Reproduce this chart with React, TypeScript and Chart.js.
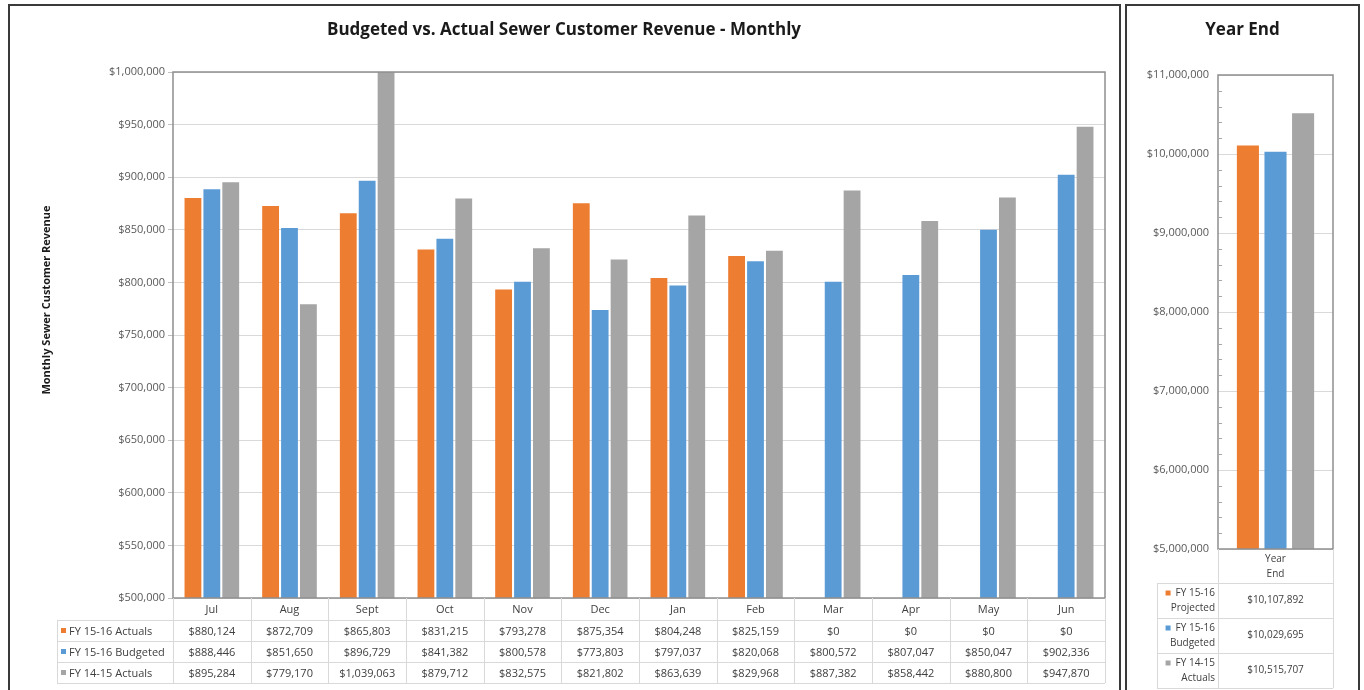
import React, { useEffect, useRef } from "react";
import { Chart, registerables } from "chart.js";

Chart.register(...registerables);

// ---------- data ----------
const months = ["Jul", "Aug", "Sept", "Oct", "Nov", "Dec", "Jan", "Feb", "Mar", "Apr", "May", "Jun"];
const monthlySeriesNames = ["FY 15-16 Actuals", "FY 15-16 Budgeted", "FY 14-15 Actuals"];
const fy1516Actuals = [880124, 872709, 865803, 831215, 793278, 875354, 804248, 825159, 0, 0, 0, 0];
const fy1516Budgeted = [888446, 851650, 896729, 841382, 800578, 773803, 797037, 820068, 800572, 807047, 850047, 902336];
const fy1415Actuals = [895284, 779170, 1039063, 879712, 832575, 821802, 863639, 829968, 887382, 858442, 880800, 947870];
const monthlyYMin = 500000;
const monthlyYMax = 1000000;
const monthlyYStep = 50000;

const yearEndCategory = ["Year End"];
const yearEndHeaderLines = ["Year", "End"];
const yearEndSeriesNames = [
  ["FY 15-16", "Projected"],
  ["FY 15-16", "Budgeted"],
  ["FY 14-15", "Actuals"],
];
const yearEndProjected = [10107892];
const yearEndBudgeted = [10029695];
const yearEndActuals = [10515707];
const yearEndYMin = 5000000;
const yearEndYMax = 11000000;
const yearEndYStep = 1000000;
const yearEndMinorStep = 200000;

const mainTitle = "Budgeted vs. Actual Sewer Customer Revenue - Monthly";
const mainYTitle = "Monthly Sewer Customer Revenue";
const yearEndTitle = "Year End";

// ---------- styles ----------
const ORANGE = "#ED7D31";
const BLUE = "#5B9BD5";
const GRAY = "#A5A5A5";
const SERIES_COLORS = [ORANGE, BLUE, GRAY];
const FONT = "'Open Sans', 'Noto Sans', sans-serif";
const TEXT = "#404040";
const GRID = "#d9d9d9";

const fmt = (v: number) => "$" + Math.round(v).toLocaleString("en-US");

const plotBorderPlugin = {
  id: "plotBorder",
  afterDraw(chart: any) {
    const { ctx, chartArea: ca } = chart;
    ctx.save();
    ctx.strokeStyle = "#8f8f8f";
    ctx.lineWidth = 1.5;
    ctx.strokeRect(ca.left, ca.top, ca.right - ca.left, ca.bottom - ca.top);
    ctx.restore();
  },
};

const monthlyExtrasPlugin = {
  id: "monthlyExtras",
  afterDraw(chart: any) {
    const { ctx, chartArea: ca, scales } = chart;
    const x = scales.x;
    const n = months.length;
    const bounds: number[] = [ca.left];
    for (let i = 1; i < n; i++) bounds.push((x.getPixelForValue(i - 1) + x.getPixelForValue(i)) / 2);
    bounds.push(ca.right);
    const rows = [fy1516Actuals, fy1516Budgeted, fy1415Actuals];
    const top = ca.bottom;
    const headerH = 22;
    const rowH = 21;
    const labelLeft = 47;
    const tableBottom = top + headerH + rowH * rows.length;

    ctx.save();
    ctx.strokeStyle = GRID;
    ctx.lineWidth = 1;
    ctx.beginPath();
    bounds.forEach((b) => {
      const bx = Math.round(b) + 0.5;
      ctx.moveTo(bx, top);
      ctx.lineTo(bx, tableBottom);
    });
    ctx.moveTo(labelLeft + 0.5, top + headerH);
    ctx.lineTo(labelLeft + 0.5, tableBottom);
    for (let r = 0; r <= rows.length; r++) {
      const y = Math.round(top + headerH + r * rowH) + 0.5;
      ctx.moveTo(labelLeft, y);
      ctx.lineTo(ca.right, y);
    }
    ctx.stroke();

    ctx.fillStyle = TEXT;
    ctx.font = `11px ${FONT}`;
    ctx.textAlign = "center";
    ctx.textBaseline = "middle";
    months.forEach((m, i) => ctx.fillText(m, x.getPixelForValue(i), top + headerH / 2 + 1));
    rows.forEach((vals, r) => {
      const cy = top + headerH + r * rowH + rowH / 2 + 1;
      vals.forEach((v, i) => ctx.fillText(fmt(v), x.getPixelForValue(i), cy));
    });
    ctx.textAlign = "left";
    rows.forEach((_, r) => {
      const cy = top + headerH + r * rowH + rowH / 2;
      ctx.fillStyle = SERIES_COLORS[r];
      ctx.fillRect(labelLeft + 4, cy - 2.5, 5, 5);
      ctx.fillStyle = TEXT;
      ctx.fillText(monthlySeriesNames[r], labelLeft + 12, cy + 1);
    });

    // y-axis title
    ctx.save();
    ctx.translate(37, 294);
    ctx.rotate(-Math.PI / 2);
    ctx.fillStyle = "#1a1a1a";
    ctx.font = `bold 11px ${FONT}`;
    ctx.textAlign = "center";
    ctx.textBaseline = "middle";
    ctx.fillText(mainYTitle, 0, 0);
    ctx.restore();

    ctx.restore();
  },
};

const yearEndExtrasPlugin = {
  id: "yearEndExtras",
  afterDraw(chart: any) {
    const { ctx, chartArea: ca, scales } = chart;
    const y = scales.y;
    const x = scales.x;
    ctx.save();
    // minor ticks inside the axis
    ctx.strokeStyle = "#a6a6a6";
    ctx.lineWidth = 1;
    ctx.beginPath();
    for (let v = yearEndYMin; v <= yearEndYMax; v += yearEndMinorStep) {
      if (v % yearEndYStep === 0) continue;
      const py = Math.round(y.getPixelForValue(v)) + 0.5;
      ctx.moveTo(ca.left, py);
      ctx.lineTo(ca.left + 4, py);
    }
    ctx.stroke();

    // table
    const top = ca.bottom;
    const headerH = 34;
    const rowH = 35;
    const labelLeft = 30;
    const rows = [yearEndProjected, yearEndBudgeted, yearEndActuals];
    const bottom = top + headerH + rowH * rows.length;
    ctx.strokeStyle = GRID;
    ctx.beginPath();
    [ca.left, ca.right].forEach((b) => {
      const bx = Math.round(b) + 0.5;
      ctx.moveTo(bx, top);
      ctx.lineTo(bx, bottom);
    });
    ctx.moveTo(labelLeft + 0.5, top + headerH);
    ctx.lineTo(labelLeft + 0.5, bottom);
    for (let r = 0; r <= rows.length; r++) {
      const py = Math.round(top + headerH + r * rowH) + 0.5;
      ctx.moveTo(labelLeft, py);
      ctx.lineTo(ca.right, py);
    }
    ctx.stroke();

    const cx = x.getPixelForValue(0);
    ctx.fillStyle = TEXT;
    ctx.font = `10px ${FONT}`;
    ctx.textAlign = "center";
    ctx.textBaseline = "middle";
    ctx.fillText(yearEndHeaderLines[0], cx, top + 10);
    ctx.fillText(yearEndHeaderLines[1], cx, top + 25);
    rows.forEach((vals, r) => {
      const rt = top + headerH + r * rowH;
      ctx.fillStyle = TEXT;
      ctx.textAlign = "center";
      ctx.fillText(fmt(vals[0]), cx, rt + rowH / 2);
      ctx.textAlign = "right";
      const rx = ca.left - 3;
      const [l1, l2] = yearEndSeriesNames[r];
      ctx.fillText(l1, rx, rt + 10);
      ctx.fillText(l2, rx, rt + 25);
      const w1 = ctx.measureText(l1).width;
      ctx.fillStyle = SERIES_COLORS[r];
      ctx.fillRect(rx - w1 - 10, rt + 7.5, 5, 5);
    });
    ctx.restore();
  },
};

// an empty right-hand spacer axis keeps the title centred on the whole panel
const spacerAxis = (w: number) => ({
  position: "right",
  display: true,
  grid: { display: false },
  border: { display: false },
  ticks: { display: false },
  afterFit: (s: any) => {
    s.width = w;
  },
});

export default function App() {
  const mainRef = useRef<HTMLCanvasElement>(null);
  const yeRef = useRef<HTMLCanvasElement>(null);

  useEffect(() => {
    Chart.defaults.font.family = FONT;
    const main = new Chart(mainRef.current as HTMLCanvasElement, {
      type: "bar",
      data: {
        labels: months,
        datasets: [
          { label: monthlySeriesNames[0], data: fy1516Actuals, backgroundColor: ORANGE },
          { label: monthlySeriesNames[1], data: fy1516Budgeted, backgroundColor: BLUE },
          { label: monthlySeriesNames[2], data: fy1415Actuals, backgroundColor: GRAY },
        ],
      },
      options: {
        responsive: false,
        animation: false,
        layout: { padding: 0 },
        datasets: { bar: { categoryPercentage: 0.73, barPercentage: 0.89 } },
        plugins: {
          legend: { display: false },
          tooltip: { enabled: false },
          title: {
            display: true,
            text: mainTitle,
            color: "#1a1a1a",
            font: { size: 17, weight: "bold", family: FONT },
            padding: { top: 14, bottom: 31.6 },
          },
        },
        scales: {
          x: {
            grid: { display: false },
            border: { display: false },
            ticks: { display: false },
            afterFit: (s: any) => {
              s.height = 92;
            },
          },
          y: {
            min: monthlyYMin,
            max: monthlyYMax,
            ticks: {
              stepSize: monthlyYStep,
              callback: (v: any) => fmt(Number(v)),
              color: "#595959",
              font: { size: 11, family: FONT },
              padding: 3,
            },
            grid: { color: GRID, tickColor: "#bfbfbf", tickLength: 5 },
            border: { display: false },
            afterFit: (s: any) => {
              s.width = 163;
            },
          },
          spacer: spacerAxis(13),
        },
      } as any,
      plugins: [plotBorderPlugin, monthlyExtrasPlugin],
    });

    const ye = new Chart(yeRef.current as HTMLCanvasElement, {
      type: "bar",
      data: {
        labels: yearEndCategory,
        datasets: [
          { label: yearEndSeriesNames[0].join(" "), data: yearEndProjected, backgroundColor: ORANGE },
          { label: yearEndSeriesNames[1].join(" "), data: yearEndBudgeted, backgroundColor: BLUE },
          { label: yearEndSeriesNames[2].join(" "), data: yearEndActuals, backgroundColor: GRAY },
        ],
      },
      options: {
        responsive: false,
        animation: false,
        layout: { padding: 0 },
        datasets: { bar: { categoryPercentage: 0.72, barPercentage: 0.8 } },
        plugins: {
          legend: { display: false },
          tooltip: { enabled: false },
          title: {
            display: true,
            text: yearEndTitle,
            color: "#1a1a1a",
            font: { size: 17, weight: "bold", family: FONT },
            padding: { top: 14, bottom: 34.6 },
          },
        },
        scales: {
          x: {
            grid: { display: false },
            border: { display: false },
            ticks: { display: false },
            afterFit: (s: any) => {
              s.height = 141;
            },
          },
          y: {
            min: yearEndYMin,
            max: yearEndYMax,
            ticks: {
              stepSize: yearEndYStep,
              callback: (v: any) => fmt(Number(v)),
              color: "#595959",
              font: { size: 11, family: FONT },
              padding: 9,
            },
            grid: { color: GRID, drawTicks: false },
            border: { display: false },
            afterFit: (s: any) => {
              s.width = 91;
            },
          },
          spacer: spacerAxis(25),
        },
      } as any,
      plugins: [plotBorderPlugin, yearEndExtrasPlugin],
    });

    return () => {
      main.destroy();
      ye.destroy();
    };
  }, []);

  return (
    <div
      style={{
        position: "absolute",
        left: 0,
        top: 0,
        width: 1364,
        height: 690,
        overflow: "hidden",
        background: "#ffffff",
      }}
    >
      <div
        style={{
          position: "absolute",
          left: 8,
          top: 4,
          width: 1113,
          height: 700,
          border: "2px solid #3a3a3a",
          boxSizing: "border-box",
        }}
      />
      <div
        style={{
          position: "absolute",
          left: 1125,
          top: 4,
          width: 235,
          height: 700,
          border: "2px solid #3a3a3a",
          boxSizing: "border-box",
        }}
      />
      <canvas
        ref={mainRef}
        width={1108}
        height={684}
        style={{ position: "absolute", left: 10, top: 6, width: 1108, height: 684 }}
      />
      <canvas
        ref={yeRef}
        width={231}
        height={684}
        style={{ position: "absolute", left: 1127, top: 6, width: 231, height: 684 }}
      />
    </div>
  );
}
